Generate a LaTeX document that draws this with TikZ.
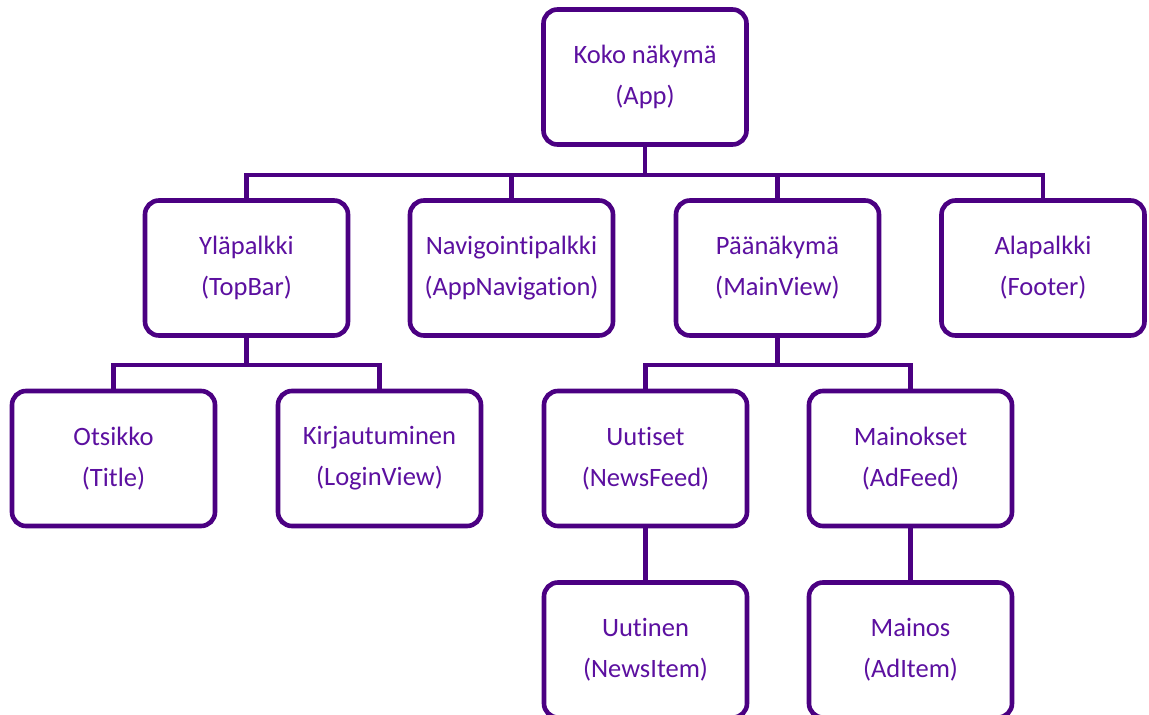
\documentclass[tikz,border=0pt]{standalone}
\usepackage{fontspec}
\setmainfont[Ligatures=NoCommon]{Carlito}
\definecolor{boxline}{RGB}{75,0,130}
\definecolor{boxtext}{RGB}{92,16,160}
\begin{document}
\begin{tikzpicture}[x=1pt,y=-1pt,
  compbox/.style={draw=boxline, line width=4.6pt, rounded corners=14pt,
    minimum width=203pt, minimum height=135pt, fill=white,
    text=boxtext, font=\fontsize{26.5}{41}\selectfont, align=center, inner sep=0pt},
  link/.style={draw=boxline, line width=4.6pt}]
\useasboundingbox (0,0) rectangle (1149,715);
\begin{scope}
\clip (0,0) rectangle (1149,715);
% tree levels
\node[compbox] (app)   at (645,77)    {Koko näkymä\\(App)};
\node[compbox] (top)   at (246.5,268) {Yläpalkki\\(TopBar)};
\node[compbox] (nav)   at (511.5,268) {Navigointipalkki\\(AppNavigation)};
\node[compbox] (main)  at (777.5,268) {Päänäkymä\\(MainView)};
\node[compbox] (foot)  at (1043,268)  {Alapalkki\\(Footer)};
\node[compbox] (title) at (113.5,458.5) {Otsikko\\(Title)};
\node[compbox] (login) at (379.5,458.5) {Kirjautuminen\\(LoginView)};
\node[compbox] (news)  at (645.5,458.5) {Uutiset\\(NewsFeed)};
\node[compbox] (ads)   at (910.5,458.5) {Mainokset\\(AdFeed)};
\node[compbox] (nitem) at (645.5,650) {Uutinen\\(NewsItem)};
\node[compbox] (aitem) at (910.5,650) {Mainos\\(AdItem)};
% connectors
\foreach \c in {top,nav,main,foot}
  \draw[link] (app.south) |- ++(0,28) -| (\c.north);
\foreach \c in {title,login}
  \draw[link] (top.south) |- ++(0,27) -| (\c.north);
\foreach \c in {news,ads}
  \draw[link] (main.south) |- ++(0,27) -| (\c.north);
\draw[link] (news.south) -- (nitem.north);
\draw[link] (ads.south) -- (aitem.north);
\end{scope}
\end{tikzpicture}
\end{document}
